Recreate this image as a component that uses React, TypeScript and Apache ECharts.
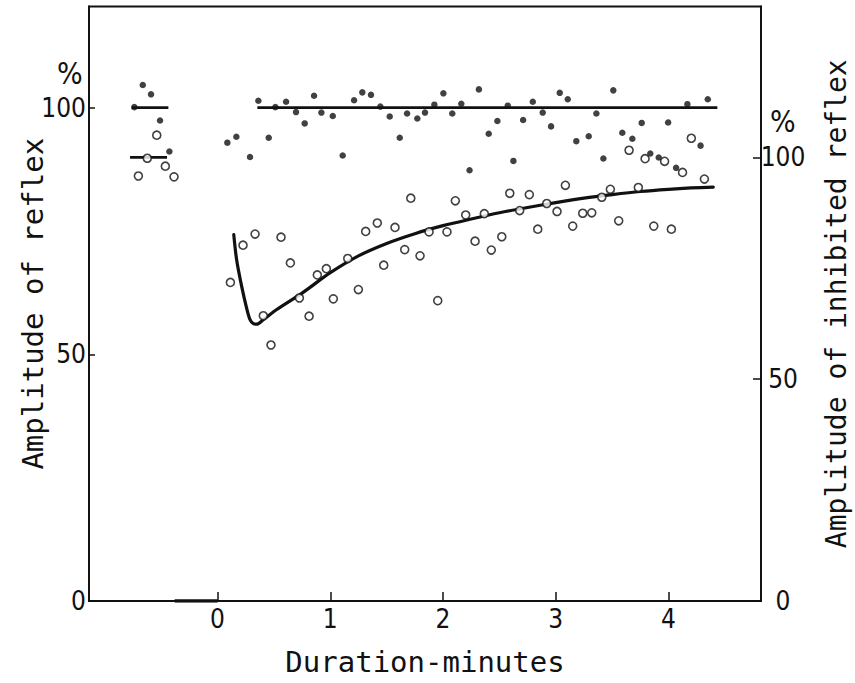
import React, { useEffect, useRef } from "react";
import * as echarts from "echarts";

// Duration (minutes) and amplitude (%) of the uninhibited reflex — filled dots, left axis
const reflexControlX = [-0.738, -0.663, -0.59, -0.51, -0.427];
const reflexControlY = [100.1, 104.6, 102.7, 97.4, 91.1];
const reflexX = [
  0.087, 0.167, 0.288, 0.362, 0.454, 0.513, 0.608, 0.696, 0.773, 0.856, 0.921, 1.022, 1.11, 1.211,
  1.284, 1.361, 1.444, 1.527, 1.616, 1.681, 1.772, 1.84, 1.923, 2.003, 2.082, 2.162, 2.235, 2.318,
  2.405, 2.482, 2.574, 2.624, 2.71, 2.796, 2.884, 2.958, 3.035, 3.106, 3.182, 3.292, 3.36, 3.422,
  3.51, 3.59, 3.679, 3.762, 3.838, 3.913, 3.996, 4.067, 4.167, 4.284, 4.348,
];
const reflexY = [
  92.9, 94.1, 90.0, 101.4, 93.9, 100.1, 101.2, 99.1, 96.8, 102.4, 99.0, 98.3, 90.3, 101.5,
  103.1, 102.6, 100.2, 98.2, 93.9, 98.8, 97.8, 99.0, 100.6, 102.9, 98.8, 100.8, 87.3, 103.7,
  94.7, 97.3, 100.4, 89.2, 97.5, 101.2, 99.0, 96.2, 103.0, 101.7, 93.2, 94.2, 98.8, 89.7,
  103.5, 94.9, 93.7, 96.9, 90.7, 89.9, 97.0, 87.8, 100.7, 92.3, 101.7,
];

// Amplitude (%) of the inhibited reflex — open circles, right axis
const inhibitedControlX = [-0.702, -0.623, -0.539, -0.463, -0.386];
const inhibitedControlY = [95.8, 99.8, 105.0, 98.0, 95.6];
const inhibitedX = [
  0.114, 0.226, 0.333, 0.406, 0.474, 0.563, 0.646, 0.726, 0.812, 0.885, 0.965, 1.027, 1.155, 1.249,
  1.314, 1.417, 1.474, 1.574, 1.66, 1.714, 1.796, 1.876, 1.953, 2.035, 2.109, 2.201, 2.284, 2.366,
  2.428, 2.521, 2.592, 2.68, 2.765, 2.84, 2.92, 3.011, 3.085, 3.15, 3.239, 3.319, 3.408, 3.484,
  3.558, 3.65, 3.732, 3.792, 3.869, 3.965, 4.025, 4.124, 4.202, 4.318,
];
const inhibitedY = [
  71.8, 80.2, 82.7, 64.3, 57.7, 82.0, 76.2, 68.3, 64.2, 73.5, 74.9, 68.1, 77.2, 70.2,
  83.3, 85.2, 75.7, 84.2, 79.2, 90.8, 77.8, 83.2, 67.7, 83.2, 90.2, 87.0, 81.1, 87.3,
  79.1, 82.1, 91.9, 88.0, 91.6, 83.8, 89.6, 87.8, 93.7, 84.5, 87.4, 87.5, 91.0, 92.8,
  85.7, 101.6, 93.2, 99.7, 84.5, 99.1, 83.8, 96.6, 104.3, 95.1,
];

// Fitted course of the inhibited reflex (right axis)
const curveX = [
  0.144, 0.17, 0.215, 0.259, 0.288, 0.318, 0.348, 0.406, 0.525, 0.75, 1.0, 1.25, 1.5, 1.75,
  2.0, 2.25, 2.5, 2.75, 3.0, 3.25, 3.5, 3.75, 4.0, 4.2, 4.397,
];
const curveY = [
  82.6, 76.8, 70.8, 65.9, 63.4, 62.5, 62.4, 63.4, 65.7, 69.4, 74.0, 77.8, 80.6, 82.8,
  84.6, 86.1, 87.5, 88.7, 89.8, 90.8, 91.6, 92.3, 92.8, 93.1, 93.3,
];

// Reference levels (100 %) and the stimulus period on the time axis
const reflexControlLine = [-0.761, -0.436];
const inhibitedControlLine = [-0.776, -0.448];
const reflexMeanLine = [0.353, 4.433];
const stimulusBar = [-0.38, 0];

const xTicks = [0, 1, 2, 3, 4];
const yTicks = [0, 50, 100];

const zip = (xs: number[], ys: number[]) => xs.map((x, i) => [x, ys[i]]);
const level = (span: number[], v: number) => span.map((x) => [x, v]);

const INK = "#111";
const TITLE_FONT = "'DejaVu Sans Mono', monospace";
const TICK_FONT = "'Liberation Sans Narrow', 'DejaVu Sans Condensed', sans-serif";

export default function App() {
  const ref = useRef<HTMLDivElement>(null);

  useEffect(() => {
    if (!ref.current) return;
    const chart = echarts.init(ref.current, null, { renderer: "svg" });

    const lineBase = {
      type: "line" as const,
      showSymbol: false,
      symbol: "none",
      silent: true,
      z: 2,
    };

    const yAxisLine = { show: true, onZero: false, lineStyle: { color: INK, width: 1.8 } };

    chart.setOption({
      animation: false,
      backgroundColor: "#fff",
      grid: {
        left: 89,
        right: 94,
        top: 6.5,
        bottom: 82,
        containLabel: false,
        outerBoundsMode: "none",
        show: true,
        borderColor: INK,
        borderWidth: 1.8,
        backgroundColor: "transparent",
      },
      xAxis: {
        type: "value",
        min: -1.14,
        max: 4.82,
        name: "Duration-minutes",
        nameLocation: "middle",
        nameGap: 46,
        nameMoveOverlap: false,
        nameTextStyle: { fontFamily: TITLE_FONT, fontSize: 29, color: INK },
        axisLine: { show: true, onZero: false, lineStyle: { color: INK, width: 1.8 } },
        axisTick: { show: true, inside: true, length: 9, customValues: xTicks, lineStyle: { color: INK, width: 1.5 } },
        axisLabel: {
          customValues: xTicks,
          margin: 5,
          fontFamily: TICK_FONT,
          fontSize: 26,
          color: INK,
        },
        splitLine: { show: false },
      },
      yAxis: [
        {
          type: "value",
          position: "left",
          min: 0,
          max: 120.5,
          name: "Amplitude of reflex",
          nameLocation: "middle",
          nameGap: 42,
          nameMoveOverlap: false,
          nameTextStyle: { fontFamily: TITLE_FONT, fontSize: 29, color: INK },
          axisLine: yAxisLine,
          axisTick: { show: true, inside: true, length: 6, customValues: yTicks, lineStyle: { color: INK, width: 1.5 } },
          axisLabel: {
            customValues: yTicks,
            margin: 3,
            fontFamily: TICK_FONT,
            fontSize: 26,
            color: INK,
          },
          splitLine: { show: false },
        },
        {
          type: "value",
          position: "right",
          min: 0,
          max: 134,
          name: "Amplitude of inhibited reflex",
          nameLocation: "middle",
          nameGap: 61,
          nameMoveOverlap: false,
          nameTextStyle: { fontFamily: TITLE_FONT, fontSize: 28, color: INK },
          axisLine: yAxisLine,
          axisTick: { show: true, inside: true, length: 8, customValues: yTicks, lineStyle: { color: INK, width: 1.5 } },
          axisLabel: {
            customValues: yTicks,
            margin: 22,
            align: "center",
            fontFamily: TICK_FONT,
            fontSize: 26,
            color: INK,
          },
          splitLine: { show: false },
        },
      ],
      graphic: [
        {
          type: "text",
          left: 57,
          top: 58,
          style: { text: "%", fontFamily: TICK_FONT, fontSize: 30, fill: INK },
        },
        {
          type: "text",
          left: 770,
          top: 106,
          style: { text: "%", fontFamily: TICK_FONT, fontSize: 30, fill: INK },
        },
      ],
      series: [
        { ...lineBase, yAxisIndex: 0, data: level(reflexControlLine, 100), lineStyle: { color: INK, width: 2.6 } },
        { ...lineBase, yAxisIndex: 1, data: level(inhibitedControlLine, 100), lineStyle: { color: INK, width: 2.6 } },
        { ...lineBase, yAxisIndex: 0, data: level(reflexMeanLine, 100), lineStyle: { color: INK, width: 2.6 } },
        { ...lineBase, yAxisIndex: 0, data: level(stimulusBar, 0), lineStyle: { color: INK, width: 3.5 } },
        {
          ...lineBase,
          yAxisIndex: 1,
          smooth: 0.3,
          data: zip(curveX, curveY),
          lineStyle: { color: INK, width: 3.2, cap: "round", join: "round" },
        },
        {
          type: "scatter",
          yAxisIndex: 0,
          symbol: "circle",
          symbolSize: 6.5,
          itemStyle: { color: INK },
          data: [...zip(reflexControlX, reflexControlY), ...zip(reflexX, reflexY)],
          z: 4,
        },
        {
          type: "scatter",
          yAxisIndex: 1,
          symbol: "circle",
          symbolSize: 8,
          itemStyle: { color: "#fff", borderColor: INK, borderWidth: 1.6 },
          data: [...zip(inhibitedControlX, inhibitedControlY), ...zip(inhibitedX, inhibitedY)],
          z: 4,
        },
      ],
    });

    return () => chart.dispose();
  }, []);

  return (
    <div
      ref={ref}
      style={{ position: "fixed", left: 0, top: 0, width: 855, height: 683, background: "#fff" }}
    />
  );
}
